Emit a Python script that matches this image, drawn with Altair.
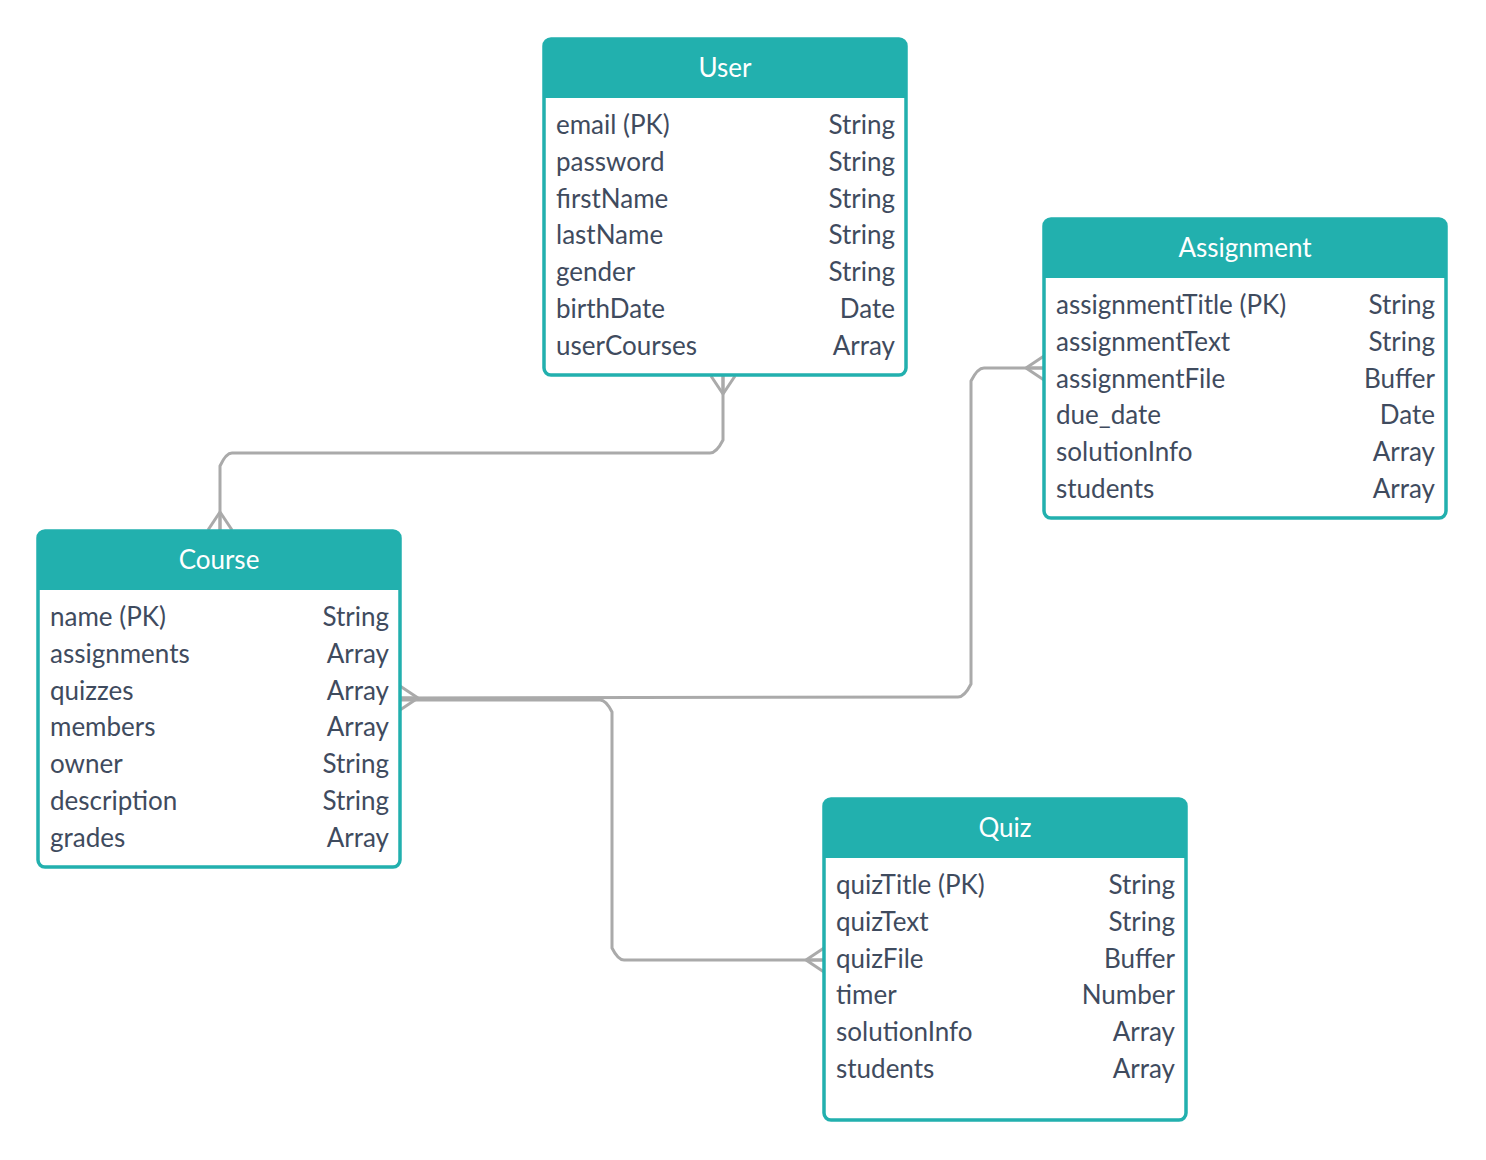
import altair as alt
import pandas as pd

TEAL = "#22b0ae"
INK = "#3f4b5e"
LINK = "#aaaaaa"

# entity tables
entities = ["User", "Assignment", "Course", "Quiz"]
user_fields = ["email (PK)", "password", "firstName", "lastName", "gender", "birthDate", "userCourses"]
user_types = ["String", "String", "String", "String", "String", "Date", "Array"]
assignment_fields = ["assignmentTitle (PK)", "assignmentText", "assignmentFile", "due_date", "solutionInfo", "students"]
assignment_types = ["String", "String", "Buffer", "Date", "Array", "Array"]
course_fields = ["name (PK)", "assignments", "quizzes", "members", "owner", "description", "grades"]
course_types = ["String", "Array", "Array", "Array", "String", "String", "Array"]
quiz_fields = ["quizTitle (PK)", "quizText", "quizFile", "timer", "solutionInfo", "students"]
quiz_types = ["String", "String", "Buffer", "Number", "Array", "Array"]

# layout in page pixels: left, top, right, bottom
layout = {
    "User": (544, 39, 906, 375),
    "Assignment": (1044, 219, 1446, 518),
    "Course": (38, 531, 400, 867),
    "Quiz": (824, 799, 1186, 1120),
}
HEADER_H = 59
ROW_H = 36.8

fields = {"User": (user_fields, user_types), "Assignment": (assignment_fields, assignment_types),
          "Course": (course_fields, course_types), "Quiz": (quiz_fields, quiz_types)}

boxes = pd.DataFrame([{"name": n, "x": layout[n][0], "y": layout[n][1], "x2": layout[n][2],
                       "y2": layout[n][3], "hy2": layout[n][1] + HEADER_H,
                       "cx": (layout[n][0] + layout[n][2]) / 2, "cy": layout[n][1] + HEADER_H / 2}
                      for n in entities])

rows = []
for n in entities:
    l, t, r, b = layout[n]
    for i, (f, ty) in enumerate(zip(*fields[n])):
        rows.append({"field": f, "type": ty, "xl": l + 12, "xr": r - 11, "y": t + 87 + i * ROW_H})
rows = pd.DataFrame(rows)

# connectors (waypoints)
links = {
    "user_course": [(723, 376), (723, 440), (710, 453), (232, 453), (220, 466), (220, 531)],
    "course_assign": [(400, 698), (958, 697), (971, 684), (971, 381), (984, 368), (1044, 368)],
    "course_quiz": [(400, 700), (600, 700), (612, 712), (612, 948), (624, 960), (824, 960)],
}
link_df = pd.DataFrame([{"link": k, "i": i, "x": p[0], "y": p[1]}
                        for k, pts in links.items() for i, p in enumerate(pts)])

# crow's feet: tip point, spread direction
feet = [((723, 394), "v", -1), ((220, 512), "v", 1), ((418, 698), "h", -1),
        ((1026, 368), "h", 1), ((806, 960), "h", 1)]
foot_rows = []
for (px, py), d, s in feet:
    for off in (-12, 0, 12):
        if d == "v":
            foot_rows.append({"x": px, "y": py, "x2": px + off, "y2": py + s * 18})
        else:
            foot_rows.append({"x": px, "y": py, "x2": px + s * 18, "y2": py + off})
foot_df = pd.DataFrame(foot_rows)

xs = alt.Scale(domain=[8, 1478], nice=False, zero=False)
ys = alt.Scale(domain=[1152, 8], nice=False, zero=False)
X = lambda f: alt.X(f, type="quantitative", scale=xs, axis=None)
Y = lambda f: alt.Y(f, type="quantitative", scale=ys, axis=None)

body = alt.Chart(boxes).mark_rect(fill="white", stroke=TEAL, strokeWidth=3.5, cornerRadius=7).encode(
    x=X("x"), x2="x2", y=Y("y"), y2="y2")
head = alt.Chart(boxes).mark_rect(fill=TEAL, cornerRadiusTopLeft=7, cornerRadiusTopRight=7).encode(
    x=X("x"), x2="x2", y=Y("y"), y2="hy2")
title = alt.Chart(boxes).mark_text(color="white", font="Lato", fontSize=26, baseline="middle").encode(
    x=X("cx"), y=Y("cy"), text="name:N")
left = alt.Chart(rows).mark_text(color=INK, font="Lato", fontSize=26, align="left", baseline="middle").encode(
    x=X("xl"), y=Y("y"), text="field:N")
right = alt.Chart(rows).mark_text(color=INK, font="Lato", fontSize=26, align="right", baseline="middle").encode(
    x=X("xr"), y=Y("y"), text="type:N")
lines = alt.Chart(link_df).mark_line(color=LINK, strokeWidth=3, interpolate="monotone").encode(
    x=X("x"), y=Y("y"), detail="link:N", order="i:Q")
crow = alt.Chart(foot_df).mark_rule(color=LINK, strokeWidth=3).encode(
    x=X("x"), y=Y("y"), x2="x2", y2="y2")

chart = alt.layer(lines, crow, body, head, title, left, right).properties(
    width=1470, height=1144, autosize=alt.AutoSizeParams(type="none"), padding=0
).configure_view(stroke=None)

chart.save("out.html", embed_options={"renderer": "svg", "actions": False})
